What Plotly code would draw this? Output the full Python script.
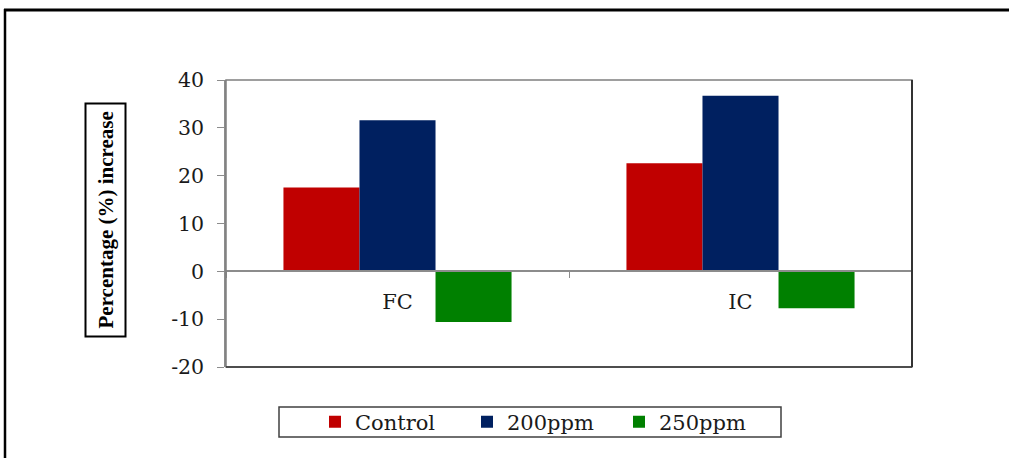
import plotly.graph_objects as go

# Data
categories = ["FC", "IC"]
series_names = ["Control", "200ppm", "250ppm"]
control = [17.5, 22.6]
ppm200 = [31.6, 36.7]
ppm250 = [-10.6, -7.7]
y_ticks = [-20, -10, 0, 10, 20, 30, 40]

colors = ["#C00000", "#002060", "#008000"]
values = [control, ppm200, ppm250]

W, H = 1009, 458
ML, MR, MT, MB = 226, 97, 80, 91
PW, PH = W - ML - MR, H - MT - MB
SERIF = "DejaVu Serif, serif"
TITLE_FONT = "Liberation Serif, Times New Roman, serif"


def px_x(px):
    return (px - ML) / PW


def px_y(py):
    return (H - MB - py) / PH


fig = go.Figure()
for name, vals, col in zip(series_names, values, colors):
    fig.add_trace(go.Bar(
        x=categories, y=vals, name=name,
        marker=dict(color=col, line=dict(width=0)),
    ))

ymin, ymax = min(y_ticks), max(y_ticks)
zero_pos = (0 - ymin) / (ymax - ymin)

fig.update_layout(
    width=W, height=H,
    margin=dict(l=ML, r=MR, t=MT, b=MB),
    paper_bgcolor="white", plot_bgcolor="white",
    barmode="group", bargap=0.335, bargroupgap=0,
    font=dict(family=SERIF, size=20, color="black"),
    xaxis=dict(
        anchor="free", position=zero_pos,
        showline=True, linecolor="#8c8c8c", linewidth=1.5,
        ticks="outside", tickson="boundaries", ticklen=6, tickcolor="#8c8c8c",
        ticklabelstandoff=12, showgrid=False, zeroline=False,
        tickfont=dict(family=SERIF, size=21, color="#1a1a1a"),
    ),
    yaxis=dict(
        range=[ymin, ymax], tickvals=y_ticks,
        ticktext=[str(v) for v in y_ticks],
        showline=True, linecolor="#8c8c8c", linewidth=1.5,
        ticks="outside", ticklen=7, tickcolor="#8c8c8c",
        ticklabelstandoff=9, showgrid=False, zeroline=False,
        tickfont=dict(family=SERIF, size=20.5, color="#1a1a1a"),
    ),
    legend=dict(
        orientation="h", x=px_x(315), xanchor="left",
        y=px_y(422), yanchor="middle",
        bgcolor="rgba(0,0,0,0)", borderwidth=0,
        entrywidth=107, font=dict(family=SERIF, size=21, color="#1a1a1a"),
    ),
    showlegend=True,
)

shapes = [
    # plot area frame
    dict(type="rect", xref="paper", yref="paper", x0=0, x1=1, y0=0, y1=1,
         line=dict(color="#7f7f7f", width=1.5)),
    dict(type="line", xref="paper", yref="paper", x0=1, x1=1, y0=0, y1=1,
         line=dict(color="#333333", width=2)),
    dict(type="line", xref="paper", yref="paper", x0=0, x1=1, y0=0, y1=0,
         line=dict(color="#333333", width=1.5)),
    # legend frame
    dict(type="rect", xref="paper", yref="paper",
         x0=px_x(279), x1=px_x(781), y0=px_y(437), y1=px_y(407),
         line=dict(color="#404040", width=1.5)),
    # outer border (top and left)
    dict(type="line", xref="paper", yref="paper",
         x0=px_x(4), x1=px_x(1012), y0=px_y(10), y1=px_y(10),
         line=dict(color="black", width=3)),
    dict(type="line", xref="paper", yref="paper",
         x0=px_x(5), x1=px_x(5), y0=px_y(9), y1=px_y(462),
         line=dict(color="black", width=2.5)),
]
fig.update_layout(shapes=shapes)

fig.add_annotation(
    text="<b>Percentage (%) increase</b>", textangle=-90,
    xref="paper", yref="paper", x=px_x(105.5), y=px_y(220),
    xanchor="center", yanchor="middle",
    showarrow=False, font=dict(family=TITLE_FONT, size=21, color="black"),
    bordercolor="black", borderwidth=2, borderpad=7, bgcolor="white",
)

fig.write_html("out.html")
